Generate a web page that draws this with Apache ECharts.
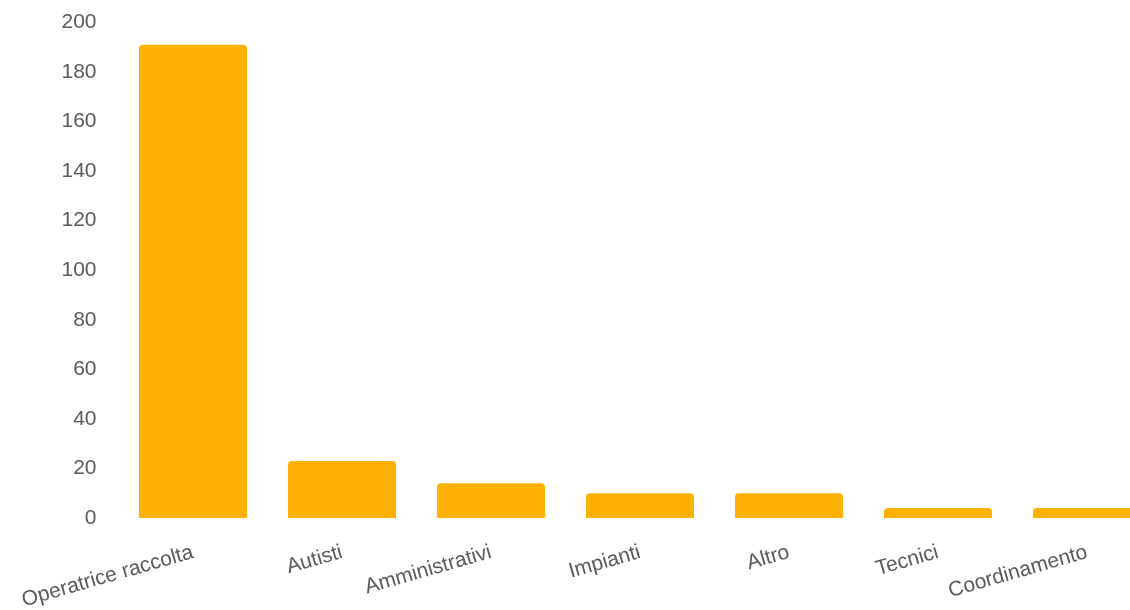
<!DOCTYPE html>
<html>
<head>
<meta charset="utf-8">
<script src="https://cdn.jsdelivr.net/npm/echarts@6/dist/echarts.min.js"></script>
<style>
  html, body { margin: 0; padding: 0; background: #ffffff; }
  #chart { width: 1130px; height: 610px; }
</style>
</head>
<body>
<div id="chart"></div>
<script>
// Staff by role
const categories = ['Operatrice raccolta', 'Autisti', 'Amministrativi', 'Impianti', 'Altro', 'Tecnici', 'Coordinamento'];
const values = [191, 23, 14, 10, 10, 4, 4];
const yTicks = { min: 0, max: 200, interval: 20 };

const chart = echarts.init(document.getElementById('chart'), null, { renderer: 'canvas' });

const labelFont = {
  color: '#5a5a5a',
  fontFamily: '"Liberation Sans", Arial, sans-serif',
  fontSize: 21
};

chart.setOption({
  animation: false,
  backgroundColor: '#ffffff',
  grid: {
    left: 118.5, top: 22.5, right: -31.5, bottom: 92,
    containLabel: false,
    outerBoundsMode: 'none'
  },
  xAxis: {
    type: 'category',
    data: categories,
    axisLine: { show: false },
    axisTick: { show: false },
    axisLabel: Object.assign({ interval: 0, rotate: 16, margin: 34 }, labelFont)
  },
  yAxis: {
    type: 'value',
    min: yTicks.min,
    max: yTicks.max,
    interval: yTicks.interval,
    axisLine: { show: false },
    axisTick: { show: false },
    splitLine: { show: false },
    axisLabel: Object.assign({ margin: 22 }, labelFont)
  },
  series: [{
    type: 'bar',
    data: values,
    barCategoryGap: '27.5%',
    itemStyle: { color: '#FFB000', borderRadius: [4, 4, 0, 0] }
  }]
});
</script>
</body>
</html>
